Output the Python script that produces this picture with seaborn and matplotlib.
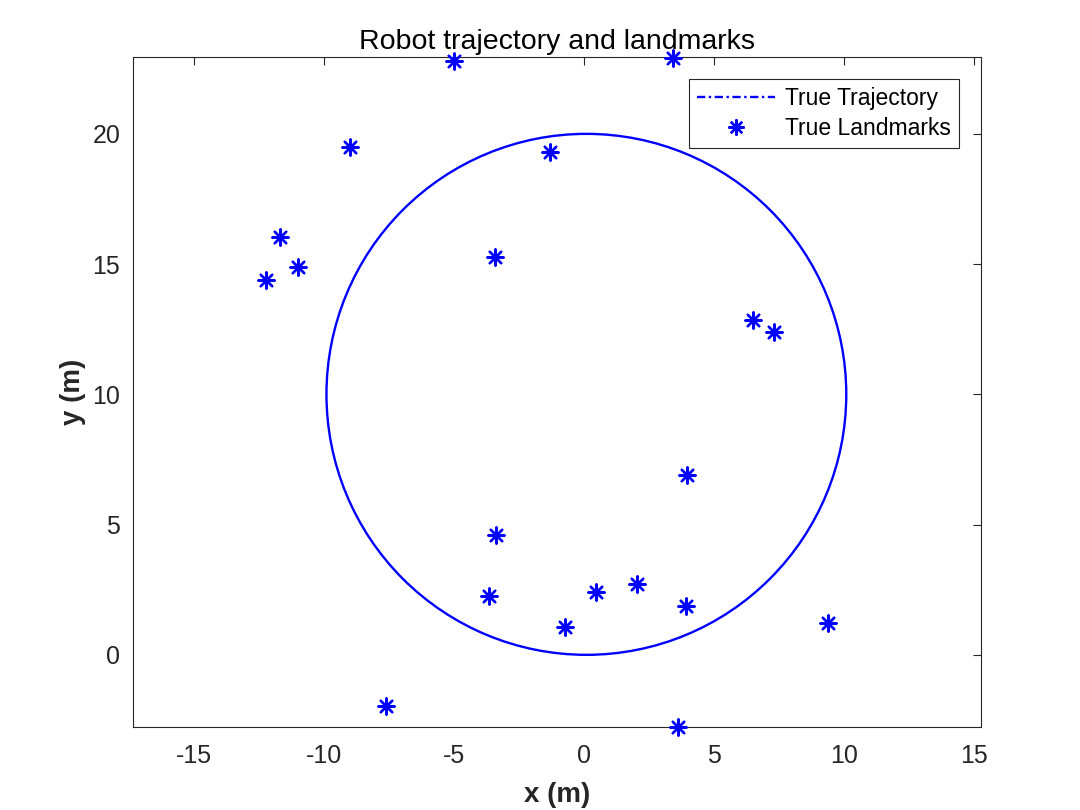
"""
机器人轨迹与路标可视化
"""

import matplotlib
matplotlib.use("Agg")
import matplotlib.pyplot as plt
from matplotlib.patches import Circle
from matplotlib.lines import Line2D
import seaborn as sns

# 真实路标坐标 (m)
landmark_x = [-5.00, 3.42, -8.99, -1.29, -11.67, -10.99, -12.22, -3.43,
              6.53, 7.33, 3.99, -3.37, -3.64, 0.47, 2.04, 3.92,
              -0.73, 9.40, -7.60, 3.64]
landmark_y = [22.80, 22.90, 19.49, 19.30, 16.03, 14.87, 14.40, 15.29,
              12.85, 12.41, 6.90, 4.61, 2.27, 2.41, 2.72, 1.86,
              1.06, 1.22, -1.96, -2.78]

# 真实轨迹: 圆 (圆心, 半径)
traj_center = (0.1, 10.0)
traj_radius = 10.0

x_limits = (-17.35, 15.27)
y_limits = (-2.77, 22.95)
x_ticks = [-15, -10, -5, 0, 5, 10, 15]
y_ticks = [0, 5, 10, 15, 20]

sns.set_style("white")
plt.rcParams["font.family"] = ["Liberation Sans", "DejaVu Sans"]
plt.rcParams["axes.unicode_minus"] = False

AXIS_GRAY = "#262626"
BLUE = "#0000FF"

fig = plt.figure(figsize=(10.8, 8.1), dpi=100)
ax = fig.add_axes([0.123, 0.1025, 0.785, 0.8271])

# 轨迹
traj = Circle(traj_center, traj_radius, fill=False, edgecolor=BLUE, linewidth=1.7)
ax.add_patch(traj)

# 路标
sns.scatterplot(
    x=landmark_x, y=landmark_y, ax=ax,
    marker=(8, 2, 0), s=135, color=BLUE, linewidth=1.7,
    clip_on=False, zorder=5, legend=False,
)

ax.set_xlim(*x_limits)
ax.set_ylim(*y_limits)
ax.set_xticks(x_ticks)
ax.set_yticks(y_ticks)

ax.tick_params(direction="in", length=6, width=0.8, colors=AXIS_GRAY,
               labelsize=18, top=True, right=True)
ax.tick_params(axis="x", pad=12.5)
ax.tick_params(axis="y", pad=9)
for spine in ax.spines.values():
    spine.set_color(AXIS_GRAY)
    spine.set_linewidth(0.8)

ax.set_xlabel("x (m)", fontsize=20, fontweight="bold", color=AXIS_GRAY, labelpad=10)
ax.set_ylabel("y (m)", fontsize=20, fontweight="bold", color=AXIS_GRAY, labelpad=5)
ax.set_title("Robot trajectory and landmarks", fontsize=20.5, color="black", pad=6)

handles = [
    Line2D([], [], color=BLUE, linestyle=(0, (3.5, 1.5, 1, 1.5)), linewidth=1.7),
    Line2D([], [], color=BLUE, linestyle="none", marker=(8, 2, 0),
           markersize=11.5, markeredgewidth=1.7),
]
leg = ax.legend(
    handles, ["True Trajectory", "True Landmarks"],
    loc="upper right", fontsize=16.5, handlelength=3.4, handletextpad=0.45,
    borderaxespad=0.95, labelspacing=0.3, borderpad=0.35,
    fancybox=False, framealpha=1, edgecolor=AXIS_GRAY,
)
leg.get_frame().set_linewidth(0.8)
for t in leg.get_texts():
    t.set_color("black")

fig.savefig("out.png", dpi=100)
